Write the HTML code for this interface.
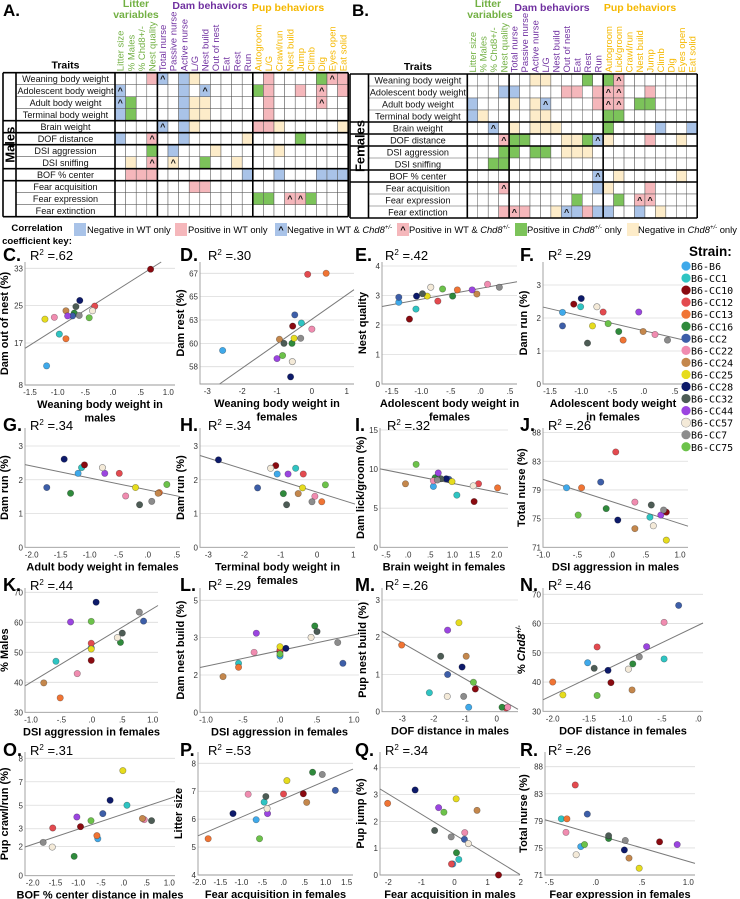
<!DOCTYPE html>
<html><head><meta charset="utf-8">
<style>
html,body{margin:0;padding:0;background:#fff;}
svg{display:block;font-family:"Liberation Sans",sans-serif;}
</style></head>
<body>
<svg id="fig" width="740" height="899" viewBox="0 0 740 899" xmlns="http://www.w3.org/2000/svg"></svg>
<script>
// ---------- heatmap data ----------
const rowLabels=["Weaning body weight","Adolescent body weight","Adult body weight","Terminal body weight","Brain weight","DOF distance","DSI aggression","DSI sniffing","BOF % center","Fear acquisition","Fear expression","Fear extinction"];
const colsA=["Litter size","% Males","% Chd8+/-","Nest quality","Total nurse","Passive nurse","Active nurse","L/G","Nest build","Out of nest","Eat","Rest","Run","Autogroom","L/G","Crawl/run","Nest build","Jump","Climb","Dig","Eyes open","Eat solid"];
const colsB=["Litter size","% Males","% Chd8+/-","Nest quality","Total nurse","Passive nurse","Active nurse","L/G","Nest build","Out of nest","Eat","Rest","Run","Autogroom","Lick/groom","Crawl/run","Nest build","Jump","Climb","Dig","Eyes open","Eat solid"];
// codes: . empty, b blue, r pink, g green, y cream, B blue^, R pink^, Y cream^
const hmA=[
"...rB.by......r....gRr",
"B.....b.B....gr..r.R.r",
"Bg....byy.....r....R..",
"bg....byy.....r.......",
"....B.by.....rry.....y",
"b..R..b.....y....g....",
"...g.b...y.....y......",
".y.R.Y..g..y..........",
".rrr........b..b...bbb",
".......rr.............",
".............gg.RRg...",
"......................"];
const hmB=[
"......yy...g.gR.......",
"...bb....rr.rRR..r....",
"b...y.yB....rRR.gg....",
"by....yy.....gg.......",
"..B.y.yyy....g....b..b",
"...Rgg...yygBy...r..y.",
"...gg.gg.yyy..........",
"..gg..................",
"............B.y.....y.",
"...R........by...r....",
"..........g...g.RR....",
"...rRr..yBbrbb..b.y..."];

// ---------- scatter data (strain order) ----------
const strains=["B6-B6","B6-CC1","B6-CC10","B6-CC12","B6-CC13","B6-CC16","B6-CC2","B6-CC22","B6-CC24","B6-CC25","B6-CC28","B6-CC32","B6-CC44","B6-CC57","B6-CC7","B6-CC75"];
const cX=[-1.2,-0.97,0.68,-0.33,-0.85,-0.7,-0.73,-1.06,-0.85,-1.23,-0.6,-0.67,-0.82,-0.37,-0.61,-0.43];
const cY=[12.1,18.9,32.8,24.9,17.9,23.4,22.8,22.5,23.9,22.1,26.1,24.8,22.8,23.9,22.9,22.4];
const dX=[-2.56,-0.30,-0.55,-0.12,0.41,-0.57,-0.49,0.0,-0.93,-0.51,-0.61,-0.8,-1.0,-0.56,-0.32,-0.84];
const dY=[59.4,62.1,61.8,66.9,67.0,60.1,62.9,61.5,60.5,60.6,56.8,60.1,58.6,58.3,60.6,58.9];
const eX=[-1.38,-1.09,-1.2,-0.72,-0.39,-0.47,-1.38,0.12,-0.06,-0.9,-1.08,-0.98,-0.14,-0.84,0.32,-0.64];
const eY=[2.77,2.54,2.2,2.81,3.19,2.98,2.94,3.38,3.05,2.98,2.98,3.06,3.19,3.28,3.28,3.22];
const fX=[-1.3,-1.01,-1.12,-0.65,-0.33,-0.4,-1.3,0.18,-0.01,-0.82,-1.0,-0.9,-0.08,-0.75,0.38,-0.57];
const fY=[2.17,2.34,2.42,2.18,1.33,1.59,1.76,1.5,1.59,1.76,2.59,1.24,2.18,2.34,1.33,1.83];
const gX=[-1.2,-1.14,-1.09,-0.49,0.2,-1.33,-1.74,-0.38,0.18,-0.21,-1.44,-0.14,-0.74,-0.78,0.07,0.33];
const gY=[2.19,2.36,2.44,2.19,1.62,1.6,1.77,1.52,1.6,1.77,2.61,1.26,2.19,2.36,1.36,1.86];
const hX=[-1.1,-0.59,-1.14,-0.38,0.13,-0.93,-1.64,-0.06,-0.52,-0.4,-2.72,-0.84,-0.8,-1.28,-0.14,0.23];
const hY=[2.17,2.34,2.42,2.17,1.35,1.59,1.76,1.51,1.59,1.76,2.59,1.26,2.17,2.34,1.35,1.85];
const iX=[0.57,1.1,1.49,1.59,2.02,0.61,0.92,0.57,-0.06,0.99,0.86,0.74,0.68,1.47,0.66,0.18];
const iY=[7.78,6.67,5.85,8.12,7.6,8.9,8.7,8.5,8.12,8.4,8.76,8.76,9.5,7.86,8.6,10.6];
const jX=[-0.66,0.56,0.8,0.06,-0.44,-0.08,-0.16,0.34,0.34,0.8,0.09,0.58,0.72,0.61,0.76,-0.49];
const jY=[79.3,75.2,75.9,84.3,79.3,76.4,80.1,77.3,73.6,72.0,74.8,76.9,75.5,74.0,76.2,75.5];
const kX=[-0.01,-0.59,-0.01,-0.01,-0.52,0.47,0.85,-0.24,-0.79,-0.01,0.07,0.5,-0.35,0.42,0.78,-0.01];
const kY=[51.5,47.0,47.3,53.0,34.8,53.3,60.4,42.9,39.8,51.1,66.7,56.4,60.1,54.9,63.4,60.3];
const lX=[0,-0.56,0,0,-0.56,0.47,0.85,-0.35,-0.77,0,0.08,0.5,-0.32,0.42,0.78,0];
const lY=[2.41,2.1,2.6,2.67,1.93,3.7,2.1,2.57,1.53,2.81,2.74,3.46,3.39,3.21,2.99,2.5];
const mX=[-0.89,-2.14,-0.68,0.3,-3.02,0.17,-1.56,0.35,-0.97,-1.2,-1.1,-1.78,-1.56,-1.57,-1.05,-0.74];
const mY=[0.12,0.51,0.61,0.1,1.79,0.12,1.0,0.12,1.49,2.39,1.2,1.49,2.19,0.41,0.41,0.79];
const nX=[-1.52,-0.47,-1.2,-1.39,-2.0,-0.9,-0.27,-0.47,-0.91,-1.86,-1.24,-1.43,-0.71,-0.96,-0.81,-1.39];
const nY=[46.6,47.9,39.8,52.0,40.0,46.2,66.2,60.4,37.3,35.6,44.0,44.7,52.1,44.4,48.6,35.4];
const oX=[-0.57,0.07,-0.95,-1.56,-0.59,-1.09,-0.46,0.45,0.41,-0.02,-0.3,0.61,-1.03,-1.57,-1.77,-0.72];
const oY=[2.52,4.8,3.34,3.25,2.73,1.32,4.23,3.82,3.9,7.16,5.14,3.75,4.0,1.95,2.27,3.75];
const pX=[-0.65,-0.46,0.47,0.0,-1.79,0.69,1.23,-0.84,0.55,0.08,-1.2,-0.42,-0.38,-0.39,0.92,-0.57];
const pY=[5.98,6.61,6.91,6.9,5.3,7.68,7.03,6.89,6.6,7.38,6.2,6.81,6.2,6.38,7.6,5.3];
const qX=[-0.05,0.13,1.33,-0.09,-2.02,0.06,0.3,0.31,0.68,0.05,-1.19,-0.6,-0.48,0.42,-0.1,-0.32];
const qY=[0.41,0.58,0.0,0.41,2.67,0.83,1.33,1.58,2.41,2.84,3.17,1.66,2.51,1.17,1.42,2.34];
const rX=[-0.16,-0.37,0.69,-0.22,-0.31,0.14,-0.09,-0.32,0.36,0.47,0.31,0.14,0.88,-0.21,0.32,-0.12];
const rY=[75.2,79.3,75.9,84.3,79.3,76.4,80.0,77.3,73.5,72.0,74.7,76.8,75.5,74.0,76.1,75.5];

// tick arrays
const xt15=[-1.5,-1,-0.5,0,0.5,1], xt15L=["-1.5","-1.0","-.5",".0",".5","1.0"];
const xt3=[-3,-2,-1,0,1], xt3L=["-3","-2","-1","0","1"];
const xtE=[-1.5,-1,-0.5,0,0.5], xtEL=["-1.5","-1.0","-.5",".0",".5"];
const xtG=[-2,-1.5,-1,-0.5,0,0.5], xtGL=["-2.0","-1.5","-1.0","-.5",".0",".5"];
const xtI=[-0.5,0,0.5,1,1.5,2], xtIL=["-.5",".0",".5","1.0","1.5","2.0"];
const xtJ=[-1,-0.5,0,0.5,1], xtJL=["-1.0","-.5",".0",".5","1.0"];
const xtM=[-3,-2,-1,0], xtML=["-3","-2","-1","0"];
const xtN=[-2,-1.5,-1,-0.5,0], xtNL=["-2.0","-1.5","-1.0","-.5",".0"];
const xtO=[-2,-1.5,-1,-0.5,0,0.5,1], xtOL=["-2.0","-1.5","-1.0","-.5",".0",".5","1.0"];
const xtP=[-2,-1.5,-1,-0.5,0,0.5,1,1.5], xtPL=["-2.0","-1.5","-1.0","-.5",".0",".5","1.0","1.5"];
const xtQ=[-2,-1,0,1,2], xtQL=["-2","-1","0","1","2"];
const xtR=[-0.5,0,0.5,1], xtRL=["-.5",".0",".5","1.0"];
const ytC=[8,17,25,33], ytCL=["8","17","25","33"];
const ytD=[57.8,60.1,62.4,64.7,67.0], ytDL=["58","60","63","65","67"];
const yt04=[0,1,2,3,4], yt04L=["0","1","2","3","4"];
const yt03=[0,1,2,3], yt03L=["0","1","2","3"];
const ytI=[0,5,10,15], ytIL=["0","5","10","15"];
const ytJ=[71,75,79,83,87], ytJL=["71","75","79","83","88"];
const ytK=[30,40,50,60,70], ytKL=["30","40","50","60","70"];
const ytL=[0,1.6,3.2,4.8], ytLL=["0","2","3","5"];
const ytO=[0,2,3.2,4.8,6.4,8], ytOL=["0","2","3","5","7","8"];
const ytP=[4,5,6,7,8], ytPL=["4","5","6","7","8"];

const NS="http://www.w3.org/2000/svg";
const svg=document.getElementById('fig');
function mk(tag,attrs,parent,txt){const e=document.createElementNS(NS,tag);for(const k in attrs)e.setAttribute(k,attrs[k]);if(txt!==undefined)e.textContent=txt;(parent||svg).appendChild(e);return e;}

const strainColors=["#3fa9ea","#2fc4c2","#8a0a10","#e34a4f","#f07434","#2f8a3c","#3d5ea8","#f08cb0","#c4874c","#e6dc1e","#0d1a6a","#4d5c55","#9b45e0","#f4ead8","#8c8c8c","#6cc24a"];
const cellColors={b:"#a9c3e8",r:"#f5b7bb",g:"#7cc35a",y:"#fdecc9",B:"#a9c3e8",R:"#f5b7bb",Y:"#fdecc9"};

// ---------- heatmaps ----------
function heatmap(name,hm,cols,x0,cw,y0,rh,labL,outerL,sideLabel){
  const g=mk('g',{});
  
  
  const nC=cols.length,nR=hm.length,x1=x0+cw*nC,y1=y0+rh*nR;
  for(let r=0;r<nR;r++){for(let c=0;c<nC;c++){const ch=hm[r][c];
    const rc=mk('rect',{x:x0+c*cw,y:y0+r*rh,width:cw,height:rh,fill:ch==='.'?'#fff':cellColors[ch],stroke:'#555','stroke-width':0.5},g);
    
    
    if('BRY'.includes(ch)){const t=mk('text',{x:x0+c*cw+cw/2,y:y0+r*rh+rh-2.5,'text-anchor':'middle','font-size':9,'font-weight':'bold',fill:'#111'},g,'^');
      
      }
  }
    const tl=mk('text',{x:(labL+x0)/2,y:y0+r*rh+rh-2.7,'text-anchor':'middle','font-size':9.1,fill:'#111'},g,rowLabels[r]);
    
    
    mk('line',{x1:labL,x2:x0,y1:y0+(r+1)*rh,y2:y0+(r+1)*rh,stroke:'#555','stroke-width':0.6},g);
  }
  [0,4,5,6,8,9,12].forEach(r=>mk('line',{x1:outerL,x2:x1,y1:y0+r*rh,y2:y0+r*rh,stroke:'#000','stroke-width':1.6},g));
  [outerL,labL,x0,x0+4*cw,x0+13*cw,x1].forEach(x=>mk('line',{x1:x,x2:x,y1:y0,y2:y1,stroke:'#000','stroke-width':1.6},g));
  const sl=mk('text',{x:0,y:0,transform:`translate(${(outerL+labL)/2+5},${(y0+y1)/2}) rotate(-90)`,'text-anchor':'middle','font-size':13,'font-weight':'bold'},g,sideLabel);
  
  
  for(let c=0;c<nC;c++){const col=c<4?'#72b043':(c<13?'#7030a0':'#f5b800');
    const t=mk('text',{x:0,y:0,transform:`translate(${x0+c*cw+cw/2+3.4},${y0-1.5}) rotate(-90)`,'font-size':9.5,fill:col},g,cols[c]);
    
    }
  const tr=mk('text',{x:(labL+x0)/2,y:y0-4,'text-anchor':'middle','font-size':10.5,'font-weight':'bold'},g,'Traits');
  
  
}
heatmap('heatmap-males',hmA,colsA,115,10.6,72.7,12,16,3,'Males');
heatmap('heatmap-females',hmB,colsB,467.3,10.45,74,12,368.5,350,'Females');

function txt(name,x,y,s,opts){const a=Object.assign({x:x,y:y},opts||{});const t=mk('text',a,svg,s);return t;}
txt('panel-label-a',3,16,'A.',{'font-size':17,'font-weight':'bold'});
txt('panel-label-b',352,16,'B.',{'font-size':17,'font-weight':'bold'});
const gtS={'font-size':10.5,'font-weight':'bold','text-anchor':'middle'};
txt('group-litter-a',136,7,'Litter',Object.assign({fill:'#72b043'},gtS));
txt('group-litter-a2',136,18,'variables',Object.assign({fill:'#72b043'},gtS));
txt('group-dam-a',210,9,'Dam behaviors',Object.assign({fill:'#7030a0'},gtS));
txt('group-pup-a',288,11,'Pup behaviors',Object.assign({fill:'#f5b800'},gtS));
txt('group-litter-b',488,7,'Litter',Object.assign({fill:'#72b043'},gtS));
txt('group-litter-b2',490,18,'variables',Object.assign({fill:'#72b043'},gtS));
txt('group-dam-b',552,11,'Dam behaviors',Object.assign({fill:'#7030a0'},gtS));
txt('group-pup-b',640,11,'Pup behaviors',Object.assign({fill:'#f5b800'},gtS));

// ---------- key ----------
txt('key-title-1',37,231,'Correlation',{'font-size':9.6,'font-weight':'bold','text-anchor':'middle'});
txt('key-title-2',37,244,'coefficient key:',{'font-size':9.6,'font-weight':'bold','text-anchor':'middle'});
function keyItem(name,x,c,mark,tx,label,italicPart,suffix){
  const r=mk('rect',{x:x,y:223,width:12,height:13,fill:cellColors[c]});
  
  
  if(mark){mk('text',{x:x+6,y:233,'text-anchor':'middle','font-size':9,'font-weight':'bold'},svg,'^');}
  const t=mk('text',{x:tx,y:233,'font-size':9.4},svg);
  
  
  mk('tspan',{},t,label);
  if(italicPart){mk('tspan',{'font-style':'italic'},t,'Chd8');mk('tspan',{'font-size':6,dy:-4,'font-style':'italic'},t,'+/-');mk('tspan',{dy:4},t,suffix||'');}
}
keyItem('key-neg-wt',74,'b',false,87,'Negative in WT only');
keyItem('key-pos-wt',175,'r',false,188,'Positive in WT only');
keyItem('key-neg-both',275,'B',true,287,'Negative in WT & ',true,'');
keyItem('key-pos-both',397,'R',true,409,'Positive in WT & ',true,'');
keyItem('key-pos-chd8',515,'g',false,527,'Positive in ',true,' only');
keyItem('key-neg-chd8',627,'y',false,638,'Negative in ',true,' only');

// ---------- scatter ----------
function lin(v1,p1,v2,p2){return v=>p1+(v-v1)*(p2-p1)/(v2-v1);}
function scatter(cfg,xs,ys,xt,xtl,yt,ytl){
  const g=mk('g',{});
  
  
  const sx=lin(...cfg.xa), sy=lin(...cfg.ya);
  const [L,T,R,B]=cfg.box;
  yt.forEach((v,i)=>{const y=sy(v);
    if(Math.abs(y-B)>1){const gl=mk('line',{x1:L,x2:R,y1:y,y2:y,stroke:'#dcdcdc','stroke-width':0.8},g);
      }
    const tl=mk('text',{x:L-2,y:y+3,'text-anchor':'end','font-size':8,fill:'#333'},g,ytl[i]);
    });
  xt.forEach((v,i)=>{const tl=mk('text',{x:sx(v),y:B+10,'text-anchor':'middle','font-size':8,fill:'#333'},g,xtl[i]);
    });
  const ax=mk('path',{d:`M${L},${T}V${B}H${R}`,fill:'none',stroke:'#9a9a9a','stroke-width':0.9},g);
  
  const n=xs.length;let mx=0,my=0;for(let i=0;i<n;i++){mx+=xs[i];my+=ys[i];}mx/=n;my/=n;
  let sxy=0,sxx=0;for(let i=0;i<n;i++){sxy+=(xs[i]-mx)*(ys[i]-my);sxx+=(xs[i]-mx)**2;}
  const b=sxy/sxx,a=my-b*mx;
  const inv=p=>cfg.xa[0]+(p-cfg.xa[1])*(cfg.xa[2]-cfg.xa[0])/(cfg.xa[3]-cfg.xa[1]);
  let xa0=inv(L),xa1=inv(R);
  let pts=[[xa0,a+b*xa0],[xa1,a+b*xa1]].map(p=>[sx(p[0]),sy(p[1])]);
  function clip(p,q){let [x1,y1]=p,[x2,y2]=q;
    if(y1>B){x1=x1+(B-y1)*(x2-x1)/(y2-y1);y1=B;} if(y1<T){x1=x1+(T-y1)*(x2-x1)/(y2-y1);y1=T;}
    return [x1,y1];}
  const p0=clip(pts[0],pts[1]),p1=clip(pts[1],pts[0]);
  const rl=mk('line',{x1:p0[0],y1:p0[1],x2:p1[0],y2:p1[1],stroke:'#7a7a7a','stroke-width':1},g);
  
  for(let i=0;i<n;i++){
    const c=mk('circle',{cx:sx(xs[i]),cy:sy(ys[i]),r:3.2,fill:strainColors[i],stroke:i===13?'#888':'rgba(0,0,0,0.35)','stroke-width':0.6},g);
    
    
  }
  const lt=mk('text',{x:cfg.lx,y:cfg.ly,'font-size':18,'font-weight':'bold'},g,cfg.id.toUpperCase()+'.');
  
  const rt=mk('text',{x:cfg.rx,y:cfg.ly-1,'font-size':13},g);
  
  mk('tspan',{},rt,'R');mk('tspan',{'font-size':8,dy:-5},rt,'2');mk('tspan',{dy:5},rt,' ='+cfg.r2);
  const yT=mk('text',{x:0,y:0,transform:`translate(${L-cfg.yo},${(T+B)/2}) rotate(-90)`,'text-anchor':'middle','font-size':11,'font-weight':'bold'},g);
  
  if(cfg.ytitle==='CHD8'){mk('tspan',{},yT,'% ');mk('tspan',{'font-style':'italic'},yT,'Chd8');mk('tspan',{'font-size':7,dy:-4,'font-style':'italic'},yT,'+/-');}
  else yT.textContent=cfg.ytitle;
  cfg.xtitle.forEach((s,k)=>{const xtT=mk('text',{x:(L+R)/2,y:B+23+k*13.5,'text-anchor':'middle','font-size':11,'font-weight':'bold'},g,s);
    });
}
const C1={l:3,r:30},C2={l:180,r:208},C3={l:355,r:385},C4={l:520,r:548};
scatter({id:'c',r2:'.62',xa:[-1.5,30,1,168.3],ya:[8,385,33,268.3],box:[25,262,175,385],lx:C1.l,rx:C1.r,ly:261,yo:17,ytitle:'Dam out of nest (%)',xtitle:['Weaning body weight in','males']},cX,cY,xt15,xt15L,ytC,ytCL);
scatter({id:'d',r2:'.30',xa:[-3,207.3,1,346.7],ya:[57.8,366.7,67,273.3],box:[200,262,354,384],lx:C2.l,rx:C2.r,ly:261,yo:16,ytitle:'Dam rest (%)',xtitle:['Weaning body weight in','females']},dX,dY,xt3,xt3L,ytD,ytDL);
scatter({id:'e',r2:'.42',xa:[-1.5,391.7,0.5,510],ya:[0,384,4,266],box:[382,262,517,384],lx:C3.l,rx:C3.r,ly:261,yo:16,ytitle:'Nest quality',xtitle:['Adolescent body weight in','females']},eX,eY,xtE,xtEL,yt04,yt04L);
scatter({id:'f',r2:'.29',xa:[-1.5,550,0.5,675],ya:[0,384,3,285],box:[543,262,683,384],lx:C4.l,rx:C4.r,ly:261,yo:16,ytitle:'Dam run (%)',xtitle:['Adolescent body weight','in females']},fX,fY,xtE,xtEL,yt03,yt03L);

scatter({id:'g',r2:'.34',xa:[-2,31.7,0.5,176.7],ya:[0,547.3,3,446],box:[25,428,180,547.3],lx:C1.l,rx:C1.r,ly:431,yo:17,ytitle:'Dam run (%)',xtitle:['Adult body weight in females']},gX,gY,xtG,xtGL,yt03,yt03L);
scatter({id:'h',r2:'.34',xa:[-3,208.3,1,353.3],ya:[0,547.3,3,446],box:[200,428,355,547.3],lx:C2.l,rx:C2.r,ly:431,yo:16,ytitle:'Dam run (%)',xtitle:['Terminal body weight in','females']},hX,hY,xt3,xt3L,yt03,yt03L);
scatter({id:'i',r2:'.32',xa:[-0.5,386,2,496.7],ya:[0,547.3,15,430],box:[380,428,508,547.3],lx:C3.l,rx:C3.r+2,ly:431,yo:16,ytitle:'Dam lick/groom (%)',xtitle:['Brain weight in females']},iX,iY,xtI,xtIL,ytI,ytIL);
scatter({id:'j',r2:'.26',xa:[-1,543.3,1,680],ya:[71,547.3,87,432.6],box:[543,428,688,547.3],lx:C4.l,rx:C4.r,ly:431,yo:18,ytitle:'Total nurse (%)',xtitle:['DSI aggression in males']},jX,jY,xtJ,xtJL,ytJ,ytJL);

scatter({id:'k',r2:'.44',xa:[-1,31,1,152.7],ya:[30,712.3,70,592.3],box:[25,588,158,712.3],lx:C1.l,rx:C1.r,ly:591,yo:17,ytitle:'% Males',xtitle:['DSI aggression in females']},kX,kY,xtJ,xtJL,ytK,ytKL);
scatter({id:'l',r2:'.29',xa:[-1,206,1,354],ya:[0,712.3,4.8,600.3],box:[200,588,359,712.3],lx:C2.l,rx:C2.r,ly:591,yo:16,ytitle:'Dam nest build (%)',xtitle:['DSI aggression in females']},lX,lY,xtJ,xtJL,ytL,ytLL);
scatter({id:'m',r2:'.26',xa:[-3,402.3,0,496.7],ya:[0,711.7,3,600],box:[382,588,518,711.7],lx:C3.l,rx:C3.r,ly:591,yo:16,ytitle:'Pup nest build (%)',xtitle:['DOF distance in males']},mX,mY,xtM,xtML,yt03,yt03L);
scatter({id:'n',r2:'.46',xa:[-2,552.7,0,698.3],ya:[30,711.3,70,594.3],box:[543,588,703,711.3],lx:C4.l,rx:C4.r,ly:591,yo:18,ytitle:'CHD8',xtitle:['DOF distance in females']},nX,nY,xtN,xtNL,ytK,ytKL);

scatter({id:'o',r2:'.31',xa:[-2,32.7,1,169.3],ya:[0,875.7,8,758.3],box:[25,752,175,875.7],lx:C1.l,rx:C1.r,ly:756,yo:17,ytitle:'Pup crawl/run (%)',xtitle:['BOF % center distance in males']},oX,oY,xtO,xtOL,ytO,ytOL);
scatter({id:'p',r2:'.53',xa:[-2,199.3,1.5,346.7],ya:[4,875,8,763.3],box:[198,752,353,875],lx:C2.l,rx:C2.r,ly:756,yo:16,ytitle:'Litter size',xtitle:['Fear acquisition in females']},pX,pY,xtP,xtPL,ytP,ytPL);
scatter({id:'q',r2:'.34',xa:[-2,388.3,2,520.7],ya:[0,875,4,767.7],box:[380,752,520,875],lx:C3.l,rx:C3.r,ly:756,yo:16,ytitle:'Pup jump (%)',xtitle:['Fear acquisition in males']},qX,qY,xtQ,xtQL,yt04,yt04L);
scatter({id:'r',r2:'.26',xa:[-0.5,549.3,1,688.3],ya:[71,875,87,766.7],box:[545,752,695,875],lx:C4.l,rx:C4.r,ly:756,yo:18,ytitle:'Total nurse (%)',xtitle:['Fear expression in females']},rX,rY,xtR,xtRL,ytJ,ytJL);

// ---------- strain legend ----------
const lg=mk('g',{});


const lt=mk('text',{x:689,y:256,'font-size':13.5,'font-weight':'bold'},lg,'Strain:');


strains.forEach((s,i)=>{
  const y=266+i*12.05;
  const c=mk('circle',{cx:686,cy:y,r:4.6,fill:strainColors[i],stroke:i===13?'#999':'none','stroke-width':0.6},lg);
  
  
  const t=mk('text',{x:691,y:y+4,'font-size':10,'font-family':'"DejaVu Sans Mono","Liberation Mono",monospace'},lg,s);
  
  
});
</script>
</body></html>
